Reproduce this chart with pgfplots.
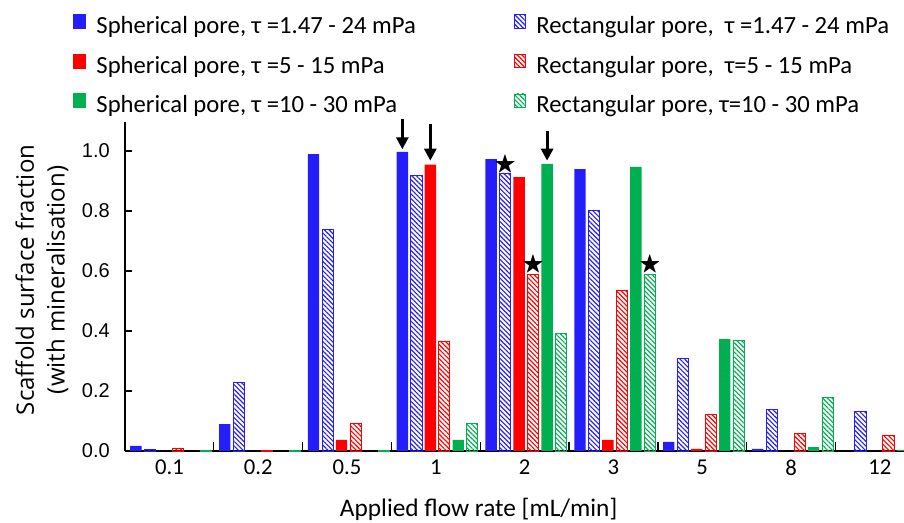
\documentclass[border=0pt]{standalone}
\usepackage{pgfplots}
\pgfplotsset{compat=1.18}
\usepackage{pgfplotstable}
\usetikzlibrary{patterns.meta,arrows.meta}
\usepackage{amssymb}
\usepackage{fontspec}
\setmainfont{Carlito}
\newfontfamily\arialf{Liberation Sans}
\newfontfamily\opensans{Open Sans}
\definecolor{cblue}{RGB}{35,30,250}
\definecolor{cred}{RGB}{255,0,0}
\definecolor{cgreen}{RGB}{0,176,80}

% x = category index (0:0.1, 1:0.2, 2:0.5, 3:1, 4:2, 5:3, 6:5, 7:8, 8:12)
\pgfplotstableread{
x y
0 0.017
1 0.090
2 0.990
3 0.997
4 0.973
5 0.940
6 0.030
7 0.007
}\SB
\pgfplotstableread{
x y
0 0.005
1 0.230
2 0.740
3 0.920
4 0.927
5 0.803
6 0.310
7 0.140
8 0.133
}\RB
\pgfplotstableread{
x y
2 0.037
3 0.955
4 0.913
5 0.037
6 0.007
}\SR
\pgfplotstableread{
x y
0 0.010
1 0.003
2 0.093
3 0.367
4 0.590
5 0.537
6 0.123
7 0.057
8 0.053
}\RR
\pgfplotstableread{
x y
3 0.037
4 0.957
5 0.947
6 0.373
7 0.013
8 0.004
}\SG
\pgfplotstableread{
x y
0 0.003
1 0.003
2 0.003
3 0.093
4 0.393
5 0.590
6 0.370
7 0.180
}\RG

\tikzset{hatch/.style={pattern={Lines[angle=-45,distance=2.5pt,line width=0.85pt]}}}

\begin{document}
\begin{tikzpicture}
\useasboundingbox (-93.75pt,-54pt) rectangle (584.25pt,338.25pt);
\begin{axis}[
  at={(0,0)}, anchor=south west,
  scale only axis, width=584.25pt, height=246.75pt,
  xmin=-0.5, xmax=8.272, ymin=0, ymax=1.097,
  clip=false,
  axis x line*=bottom, axis y line*=left,
  axis line style={line width=1pt, black},
  xtick={0,...,8},
  xticklabels={0.1,0.2,0.5,1,2,3,5,8,12},
  major x tick style={draw=none},
  minor xtick={0.5,1.5,...,7.5},
  minor tick length=7pt,
  minor x tick style={line width=1pt, black},
  ytick={0,0.2,0.4,0.6,0.8,1.0},
  yticklabels={0.0,0.2,0.4,0.6,0.8,1.0},
  major tick length=5pt,
  y tick style={line width=1pt, black},
  tick align=inside,
  xticklabel style={font=\fontsize{17}{17}\selectfont, yshift=-3pt},
  yticklabel style={font=\arialf\fontsize{15}{15}\selectfont, inner sep=0pt, xshift=-11.25pt},
  xlabel={Applied flow rate [mL/min]},
  xlabel style={font=\fontsize{19}{19}\selectfont, at={(axis description cs:0.454,-0.179)}, anchor=center},
  ylabel={Scaffold surface fraction\\(with mineralisation)},
  ylabel style={font=\opensans\fontsize{18}{23}\selectfont, align=center, at={(axis description cs:-0.1066,0.52)}, anchor=center},
  legend columns=2,
  legend cell align=left,
  legend style={at={(axis description cs:-0.0719,1.337)}, anchor=north west,
    draw=none, fill=none, font=\fontsize{18.5}{18.5}\selectfont,
    nodes={inner sep=0pt, text height=12pt, text depth=4pt},
    row sep=11pt,
    /tikz/every odd column/.append style={column sep=8pt},
  },
]
% legend images
\addlegendimage{legend image code/.code={\fill[cblue] (0pt,0pt) rectangle (9pt,10.5pt);}}
\addlegendentry{\makebox[313pt][l]{Spherical pore, τ =1.47 - 24 mPa}}
\addlegendimage{legend image code/.code={\draw[cblue, line width=0.6pt, hatch, pattern color=cblue] (0.3pt,0.3pt) rectangle (8.7pt,10.2pt);}}
\addlegendentry{Rectangular pore,\ \ τ =1.47 - 24 mPa}
\addlegendimage{legend image code/.code={\fill[cred] (0pt,0pt) rectangle (9pt,10.5pt);}}
\addlegendentry{\makebox[313pt][l]{Spherical pore, τ =5 - 15 mPa}}
\addlegendimage{legend image code/.code={\draw[cred, line width=0.6pt, hatch, pattern color=cred] (0.3pt,0.3pt) rectangle (8.7pt,10.2pt);}}
\addlegendentry{Rectangular pore,\ \ τ=5 - 15 mPa}
\addlegendimage{legend image code/.code={\fill[cgreen] (0pt,0pt) rectangle (9pt,10.5pt);}}
\addlegendentry{\makebox[313pt][l]{Spherical pore, τ =10 - 30 mPa}}
\addlegendimage{legend image code/.code={\draw[cgreen, line width=0.6pt, hatch, pattern color=cgreen] (0.3pt,0.3pt) rectangle (8.7pt,10.2pt);}}
\addlegendentry{Rectangular pore, τ=10 - 30 mPa}

% bars
\addplot[forget plot, ybar, bar width=0.128, bar shift=-0.377, fill=cblue, draw=none] table {\SB};
\addplot[forget plot, ybar, bar width=0.125, bar shift=-0.219, draw=cblue, line width=0.6pt, hatch, pattern color=cblue] table {\RB};
\addplot[forget plot, ybar, bar width=0.128, bar shift=-0.062, fill=cred, draw=none] table {\SR};
\addplot[forget plot, ybar, bar width=0.125, bar shift=0.096, draw=cred, line width=0.6pt, hatch, pattern color=cred] table {\RR};
\addplot[forget plot, ybar, bar width=0.128, bar shift=0.253, fill=cgreen, draw=none] table {\SG};
\addplot[forget plot, ybar, bar width=0.125, bar shift=0.411, draw=cgreen, line width=0.6pt, hatch, pattern color=cgreen] table {\RG};

% arrows
\addplot[forget plot, black, line width=2.2pt, -{Triangle[width=9pt,length=9pt]},
  quiver={u=\thisrow{u}, v=\thisrow{v}}] table {
x y u v
2.623 1.108 0 -0.102
2.938 1.090 0 -0.122
4.253 1.068 0 -0.100
};
% stars
\addplot[forget plot, only marks, mark=text, text mark={\fontsize{17}{17}\selectfont$\bigstar$}] coordinates {
(3.781,0.953) (4.096,0.62) (5.411,0.62)
};
\end{axis}
\end{tikzpicture}
\end{document}
